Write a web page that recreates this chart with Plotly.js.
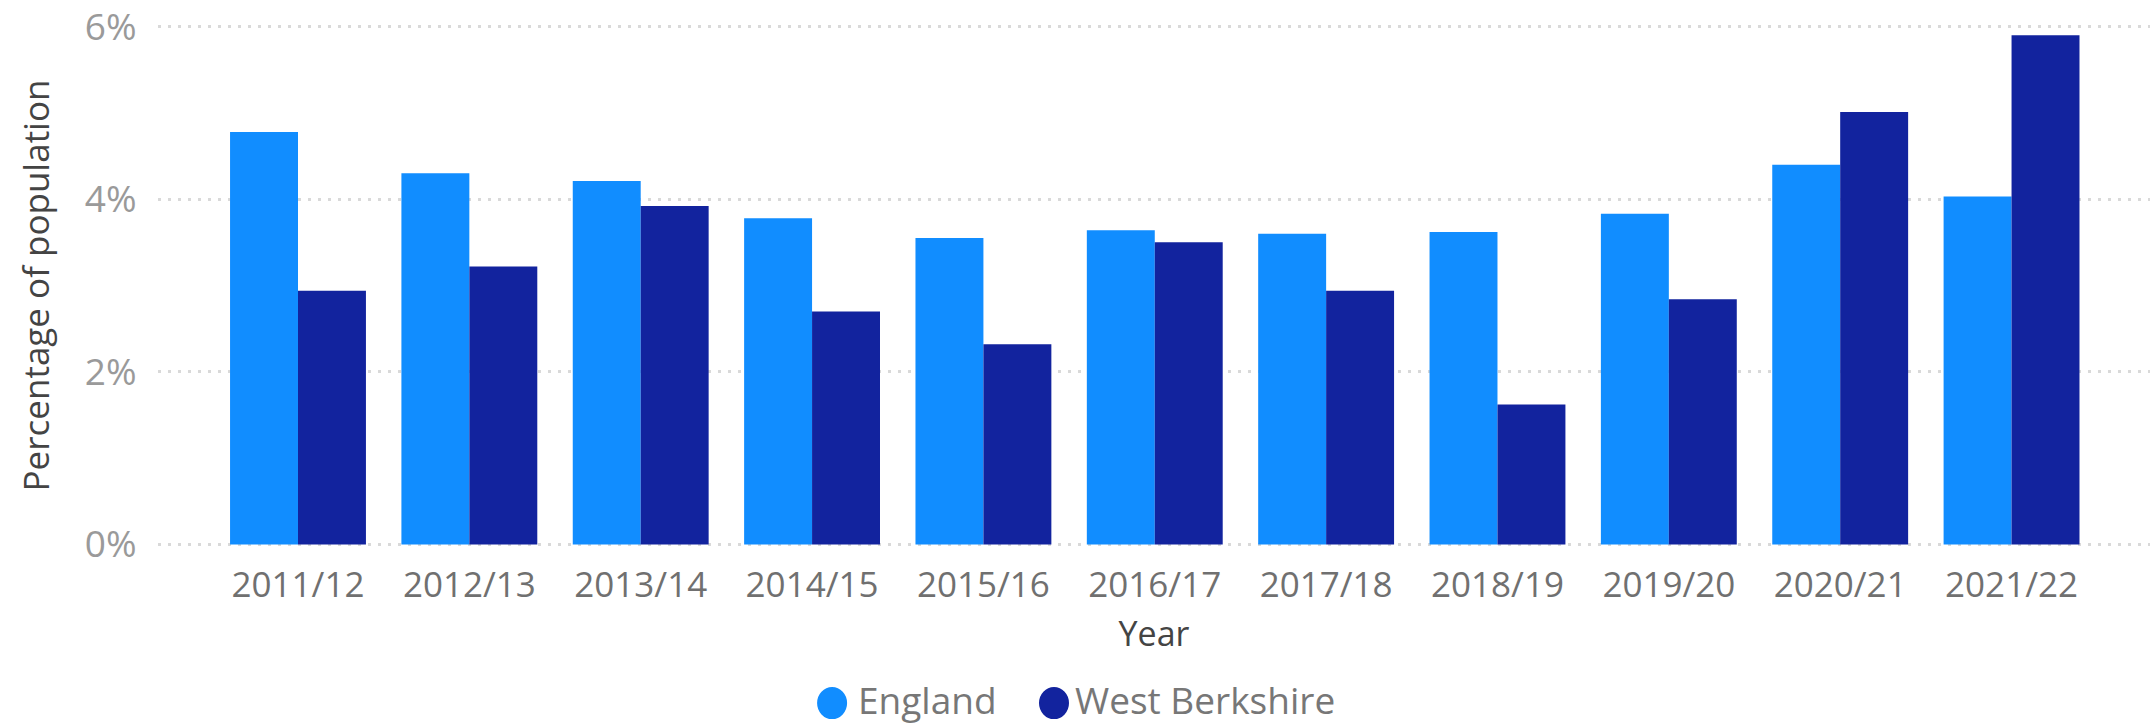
<!DOCTYPE html>
<html>
<head>
<meta charset="utf-8">
<script src="https://cdn.plot.ly/plotly-3.0.1.min.js"></script>
<style>
  html, body { margin: 0; padding: 0; background: #ffffff; }
  #chart { width: 2150px; height: 727px; }
</style>
</head>
<body>
<div id="chart"></div>
<script>
const years = ["2011/12", "2012/13", "2013/14", "2014/15", "2015/16", "2016/17", "2017/18", "2018/19", "2019/20", "2020/21", "2021/22"];
const england = [4.78, 4.30, 4.21, 3.78, 3.55, 3.64, 3.60, 3.62, 3.83, 4.40, 4.03];
const westBerkshire = [2.94, 3.22, 3.92, 2.70, 2.32, 3.50, 2.94, 1.62, 2.84, 5.01, 5.90];
const yTicks = [0, 2, 4, 6];
const yTickLabels = yTicks.map(v => v + "%");
const seriesNames = ["England", "West Berkshire"];
const seriesColors = ["#118DFF", "#12239E"];

const FONT = "'Segoe UI', 'Open Sans', sans-serif";

const traces = [
  { type: "bar", name: seriesNames[0], x: years, y: england, marker: { color: seriesColors[0] } },
  { type: "bar", name: seriesNames[1], x: years, y: westBerkshire, marker: { color: seriesColors[1] } }
];

// Custom legend (circle symbols) placed below the plot, in paper coordinates
const legendY = -0.2925;
const legendItems = [
  { symX: 0.3384, textX: 0.3509 },
  { symX: 0.4498, textX: 0.4598 }
];
const shapes = legendItems.map((it, i) => ({
  type: "circle", xref: "paper", yref: "paper",
  xsizemode: "pixel", ysizemode: "pixel",
  xanchor: it.symX, yanchor: legendY - 0.006,
  x0: -15, x1: 15, y0: -16, y1: 16,
  fillcolor: seriesColors[i], line: { width: 0 }
}));
const annotations = legendItems.map((it, i) => ({
  xref: "paper", yref: "paper", x: it.textX, y: legendY,
  xanchor: "left", yanchor: "middle", showarrow: false,
  text: seriesNames[i], borderpad: 0,
  font: { family: FONT, size: 37, color: "#777777" }
}));

const layout = {
  width: 2150,
  height: 727,
  margin: { l: 158, r: 0, t: 24, b: 180, pad: 0 },
  paper_bgcolor: "#ffffff",
  plot_bgcolor: "#ffffff",
  barmode: "group",
  bargap: 0.207,
  bargroupgap: 0,
  showlegend: false,
  font: { family: FONT, size: 33, color: "#777777" },
  xaxis: {
    type: "category",
    range: [-0.817, 10.808],
    showgrid: false,
    zeroline: false,
    showline: false,
    ticks: "outside",
    ticklen: 7,
    tickcolor: "rgba(0,0,0,0)",
    tickfont: { family: FONT, size: 35, color: "#707070" },
    title: { text: "Year", font: { family: FONT, size: 34, color: "#444444" }, standoff: 16 }
  },
  yaxis: {
    range: [-0.03, 6.03],
    tickvals: yTicks,
    ticktext: yTickLabels,
    ticklabeloverflow: "allow",
    showgrid: true,
    gridcolor: "#d9d9d9",
    gridwidth: 3,
    griddash: "3px,7px",
    zeroline: false,
    showline: false,
    ticks: "outside",
    ticklen: 13,
    tickcolor: "rgba(0,0,0,0)",
    tickfont: { family: FONT, size: 37, color: "#9a9a9a" },
    title: { text: "Percentage of population", font: { family: FONT, size: 35, color: "#444444" }, standoff: 24 }
  },
  shapes: shapes,
  annotations: annotations
};

Plotly.newPlot("chart", traces, layout, { displayModeBar: false, staticPlot: true });
</script>
</body>
</html>
